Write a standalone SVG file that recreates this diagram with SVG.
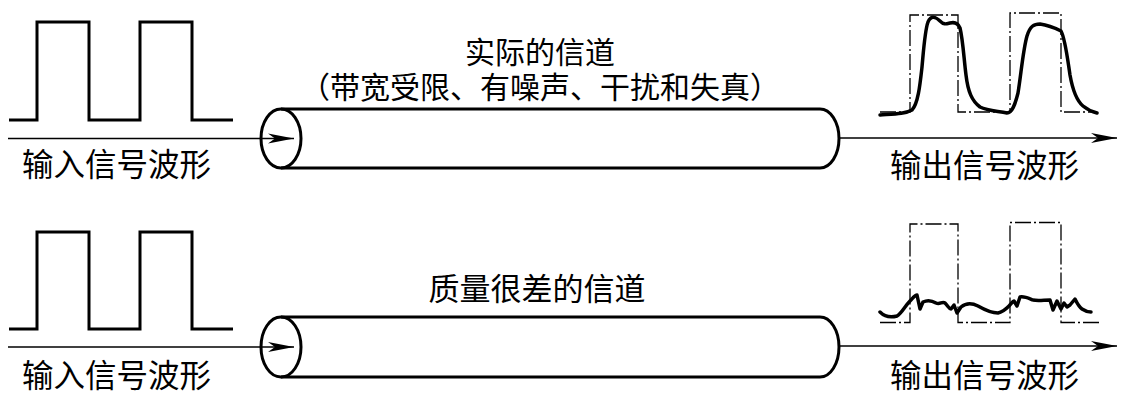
<svg xmlns="http://www.w3.org/2000/svg" width="1134" height="410" viewBox="0 0 1134 410">
<style>
.t{font-family:"Noto Sans CJK SC","Noto Sans CJK JP",sans-serif;fill:#000;}
.sq{fill:none;stroke:#000;stroke-width:3;stroke-linejoin:miter;}
.cyl{fill:none;stroke:#000;stroke-width:3;}
.ln{fill:none;stroke:#000;stroke-width:1.5;}
.dd{fill:none;stroke:#000;stroke-width:1.3;stroke-dasharray:16 3 2 3;}
.wv{fill:none;stroke:#000;stroke-width:3.5;stroke-linejoin:round;stroke-linecap:round;}
</style>
<defs>
<marker id="ah" markerWidth="30" markerHeight="12" viewBox="-28 -6 30 12" refX="0" refY="0" orient="auto" markerUnits="userSpaceOnUse">
<path d="M0,0 L-26,-5 L-19,0 L-26,5 Z" fill="#000"/>
</marker>
</defs>
<rect width="1134" height="410" fill="#fff"/>

<g id="input-top">
<path class="sq" d="M9,120 H37 V22 H89 V120 H140 V22 H192 V120 H233"/>
<text class="t" x="22" y="176" font-size="31.5">输入信号波形</text>
</g>

<g id="channel-top">
<ellipse class="cyl" cx="281" cy="138.5" rx="20" ry="29.5"/>
<path class="cyl" d="M281,109 H820 A19,29.5 0 0 1 820,168 H281"/>
<text class="t" font-size="30" text-anchor="middle"><tspan x="540" y="63">实际的信道</tspan><tspan x="540" y="98">（带宽受限、有噪声、干扰和失真）</tspan></text>
</g>

<g id="output-top">
<path class="dd" d="M880,112 H910 V15 H958 V112 H1010 V13 H1061 V112 H1097"/>
<path class="wv" d="M880,115 C895,114 905,114 912,110 C918,104 920,85 922,67 C924,45 925,30 928,22 C931,15 936,17 940,21 C944,25 946,24 950,23 C954,22 958,23 960,28 C963,40 964,60 966,75 C968,92 972,101 980,107 C988,111 998,111 1007,113 C1012,113 1015,105 1018,93 C1021,75 1023,50 1027,36 C1030,26 1034,24 1040,24 C1047,25 1055,28 1061,31 C1065,38 1067,55 1070,75 C1073,92 1077,101 1083,106 C1088,110 1093,112 1097,113"/>
<text class="t" x="890" y="177" font-size="31.5">输出信号波形</text>
</g>

<g id="input-bottom">
<path class="sq" d="M9,329 H37 V232 H89 V329 H140 V232 H192 V329 H233"/>
<text class="t" x="22" y="387" font-size="31.5">输入信号波形</text>
</g>

<g id="channel-bottom">
<ellipse class="cyl" cx="281" cy="347" rx="20" ry="30"/>
<path class="cyl" d="M281,317 H820 A19,30 0 0 1 820,377 H281"/>
<text class="t" x="537" y="300" font-size="31" text-anchor="middle">质量很差的信道</text>
</g>

<g id="output-bottom">
<path class="dd" d="M880,322.5 H910 V224 H958 V322.5 H1010 V222.5 H1061 V322.5 H1100"/>
<path class="wv" d="M880,312 C884,316 890,318 897,316 C902,313 905,306 910,301 C913,298 915,295 917,295 L920,309 L923,302 C927,300 931,300 936,303 C940,305 942,301 945,303 C948,306 949,309 951,309 L954,305 L957,313 L961,307 C966,303 972,303 978,306 C985,310 992,313 998,313 C1003,312 1006,309 1009,306 C1011,304 1013,301 1014,301 L1017,306 L1020,297 C1024,296 1028,298 1033,300 C1038,301 1044,300 1050,300 L1053,310 L1057,301 L1061,309 L1064,303 L1067,307 L1070,305 L1075,299 C1077,303 1079,307 1082,309 C1085,311 1088,312 1091,312"/>
<text class="t" x="890" y="387" font-size="31.5">输出信号波形</text>
</g>

<g id="connectors">
<line class="ln" x1="8" y1="138.5" x2="294" y2="138.5" marker-end="url(#ah)"/>
<line class="ln" x1="839" y1="138" x2="1117" y2="138" marker-end="url(#ah)"/>
<line class="ln" x1="8" y1="347" x2="294" y2="347" marker-end="url(#ah)"/>
<line class="ln" x1="839" y1="346" x2="1117" y2="346" marker-end="url(#ah)"/>
</g>
</svg>
